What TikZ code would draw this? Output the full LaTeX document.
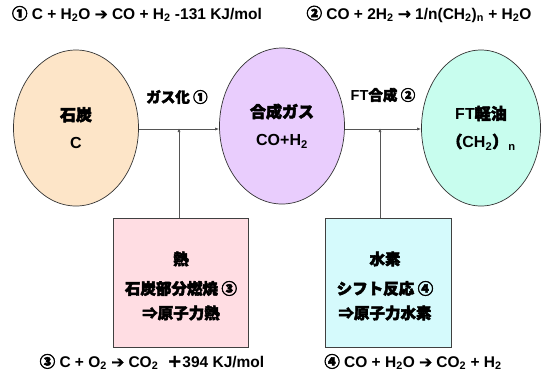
\documentclass[tikz,border=0pt]{standalone}
\usepackage{fontspec}
\setmainfont{Liberation Sans}
\newfontfamily\jp{Noto Sans CJK JP}[FakeBold=3]
\newfontfamily\sym{DejaVu Sans}[FakeBold=1.5]
\usetikzlibrary{shapes.geometric,arrows.meta}
\definecolor{peach}{HTML}{FDE5C8}
\definecolor{lilac}{HTML}{E9CDFD}
\definecolor{mint}{HTML}{C8FDEE}
\definecolor{pinkbox}{HTML}{FFDDE3}
\definecolor{cyanbox}{HTML}{D5FAFC}
\definecolor{linegray}{HTML}{555555}
\newcommand{\sub}[1]{\textsubscript{#1}}
\newcommand{\harr}{{\sym ➔}}
\tikzset{
  oval/.style={ellipse, draw=black!80, line width=0.7pt, minimum width=125pt, minimum height=156pt, inner sep=0pt, align=center, font=\bfseries\fontsize{16}{19}\selectfont},
  boxnode/.style={rectangle, draw=black!75, line width=0.7pt, minimum height=129pt, inner sep=0pt},
  boxtext/.style={align=center, inner sep=0pt, font=\bfseries\fontsize{15.5}{18.5}\selectfont},
  eqn/.style={font=\bfseries\fontsize{15.5}{18}\selectfont, inner sep=0pt},
  lbl/.style={font=\bfseries\fontsize{14.5}{17}\selectfont, inner sep=0pt},
  conn/.style={draw=linegray, line width=0.7pt},
  arr/.style={conn, -{Latex[length=4pt,width=3pt]}}
}
\begin{document}
\begin{tikzpicture}[x=1pt,y=-1pt]
\useasboundingbox (0,0) rectangle (541,376);
% ellipses
\node[oval, fill=peach] (e1) at (76,128) {{\jp 石炭}\\[9pt]C};
\node[oval, fill=lilac] (e2) at (282,126) {{\jp 合成ガス}\\[9pt]CO+H\sub{2}};
\node[oval, fill=mint, minimum width=119pt] (e3) at (481,128) {FT{\jp 軽油}\\[9pt]{\jp （}CH\sub{2}{\jp ）}\sub{n}};
% boxes
\node[boxnode, fill=pinkbox, minimum width=135pt] (b1) at (181,282.5) {};
\node[boxnode, fill=cyanbox, minimum width=126pt] (b2) at (388,282.5) {};
\node[boxtext] (t1) at (181,286) {{\jp 熱}\\[11pt]{\jp 石炭部分燃焼 ③}\\[6pt]{\jp ⇒原子力熱}};
\node[boxtext] (t2) at (385,286) {{\jp 水素}\\[11pt]{\jp シフト反応 ④}\\[6pt]{\jp ⇒原子力水素}};
% junction points
\coordinate (j1) at (179,129);
\coordinate (j2) at (380,129);
% connectors
\draw[arr] (e1.east |- j1) -- (e2.west |- j1);
\draw[arr] (e2.east |- j2) -- (e3.west |- j2);
\draw[arr] (j1 |- b1.north) -- ([yshift=1pt]j1);
\draw[arr] (j2 |- b2.north) -- ([yshift=1pt]j2);
% labels
\node[lbl] (l1) at (177,97) {{\jp ガス化 ①}};
\node[lbl] (l2) at (383,95) {FT{\jp 合成 ②}};
% equations
\node[eqn] (q1) at (137,14) {{\jp ①} C + H\sub{2}O \harr{} CO + H\sub{2}\ -131 KJ/mol};
\node[eqn] (q2) at (419,14) {{\jp ②} CO + 2H\sub{2} {\sym →} 1/n(CH\sub{2})\sub{n} + H\sub{2}O};
\node[eqn] (q3) at (152,362) {{\jp ③} C + O\sub{2} \harr{} CO\sub{2}\ \ {\jp ＋}394 KJ/mol};
\node[eqn] (q4) at (413,362) {{\jp ④} CO + H\sub{2}O \harr{} CO\sub{2} + H\sub{2}};
\end{tikzpicture}
\end{document}
